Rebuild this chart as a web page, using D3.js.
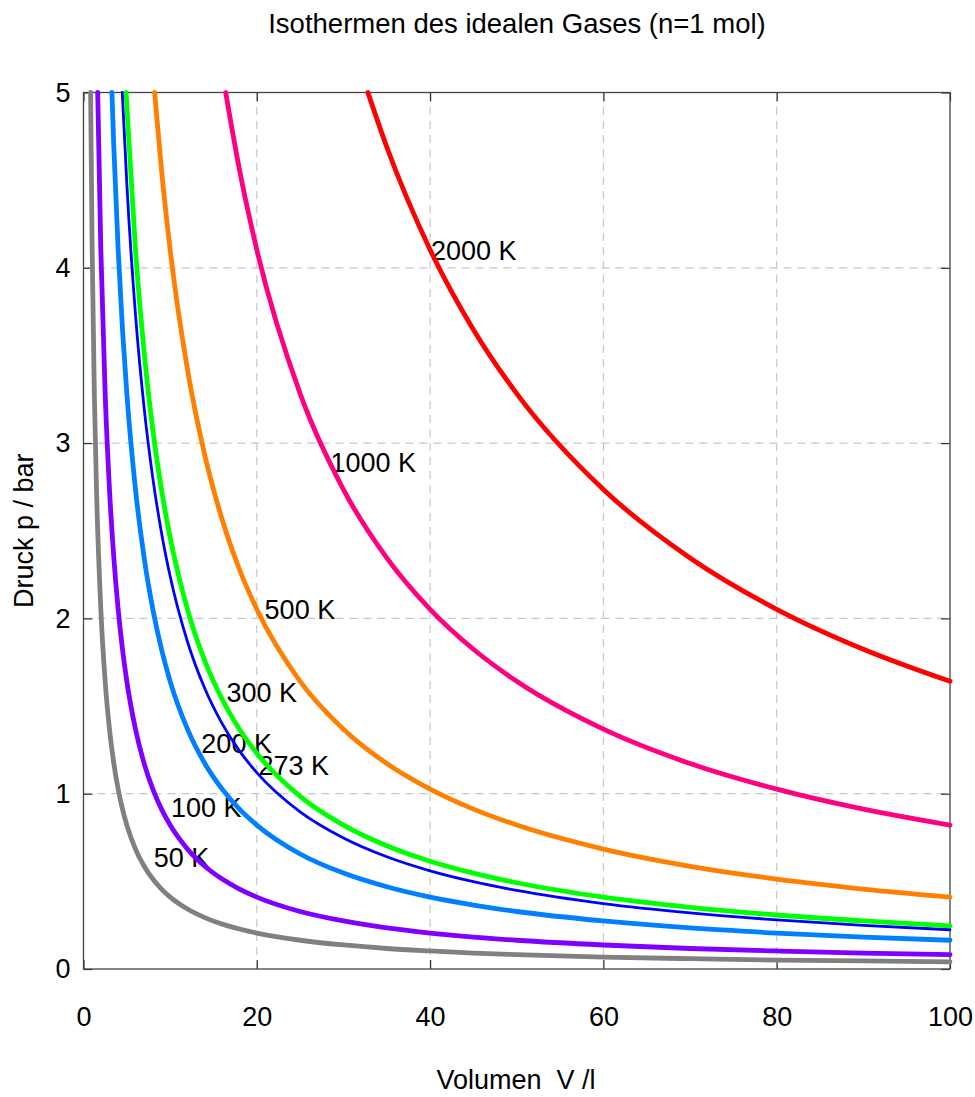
<!DOCTYPE html>
<html>
<head>
<meta charset="utf-8">
<script src="https://cdn.jsdelivr.net/npm/d3@7"></script>
<style>
  body { margin: 0; background: #fff; }
  svg { display: block; font-family: "Liberation Sans", Arial, sans-serif; }
</style>
</head>
<body>
<div id="chart"></div>
<script>
// isotherm temperatures and colours
var temperatures = [50, 100, 200, 273, 300, 500, 1000, 2000];
var colors = ['#808080', '#7f00ff', '#0080ff', '#0000ff', '#00ff00', '#ff8000', '#ff0080', '#ff0000'];

// volume (l) where each curve leaves the top of the frame (p = 5 bar)
var startVolumes = [0.82, 1.64, 3.28, 4.48, 4.92, 8.21, 16.41, 32.82];

// volumes read along the x axis
var volumes = [0.8, 1, 1.25, 1.5, 2, 2.5, 3, 3.5, 4, 4.5, 5, 6, 7, 8, 9, 10, 12, 14, 16, 18, 20, 25, 30, 35, 40, 45, 50, 60, 70, 80, 90, 100];

// pressures (bar) at those volumes, null = above the frame
var p50 = [null, 4.103, 3.282, 2.735, 2.052, 1.641, 1.368, 1.172, 1.026, 0.912, 0.821, 0.684, 0.586, 0.513, 0.456, 0.410, 0.342, 0.293, 0.256, 0.228, 0.205, 0.164, 0.137, 0.117, 0.103, 0.091, 0.082, 0.068, 0.059, 0.051, 0.046, 0.041];
var p100 = [null, null, null, null, 4.103, 3.282, 2.735, 2.345, 2.052, 1.824, 1.641, 1.368, 1.172, 1.026, 0.912, 0.821, 0.684, 0.586, 0.513, 0.456, 0.410, 0.328, 0.274, 0.234, 0.205, 0.182, 0.164, 0.137, 0.117, 0.103, 0.091, 0.082];
var p200 = [null, null, null, null, null, null, null, 4.689, 4.103, 3.647, 3.282, 2.735, 2.345, 2.052, 1.824, 1.641, 1.368, 1.172, 1.026, 0.912, 0.821, 0.656, 0.547, 0.469, 0.410, 0.365, 0.328, 0.274, 0.234, 0.205, 0.182, 0.164];
var p273 = [null, null, null, null, null, null, null, null, null, 4.978, 4.480, 3.733, 3.200, 2.800, 2.489, 2.240, 1.867, 1.600, 1.400, 1.244, 1.120, 0.896, 0.747, 0.640, 0.560, 0.498, 0.448, 0.373, 0.320, 0.280, 0.249, 0.224];
var p300 = [null, null, null, null, null, null, null, null, null, null, 4.924, 4.103, 3.517, 3.077, 2.735, 2.462, 2.052, 1.758, 1.539, 1.368, 1.231, 0.985, 0.821, 0.703, 0.615, 0.547, 0.492, 0.410, 0.352, 0.308, 0.274, 0.246];
var p500 = [null, null, null, null, null, null, null, null, null, null, null, null, null, null, 4.559, 4.103, 3.419, 2.931, 2.564, 2.279, 2.052, 1.641, 1.368, 1.172, 1.026, 0.912, 0.821, 0.684, 0.586, 0.513, 0.456, 0.410];
var p1000 = [null, null, null, null, null, null, null, null, null, null, null, null, null, null, null, null, null, null, null, 4.559, 4.103, 3.282, 2.735, 2.345, 2.052, 1.824, 1.641, 1.368, 1.172, 1.026, 0.912, 0.821];
var p2000 = [null, null, null, null, null, null, null, null, null, null, null, null, null, null, null, null, null, null, null, null, null, null, null, 4.689, 4.103, 3.647, 3.282, 2.735, 2.345, 2.052, 1.824, 1.641];
var pressures = [p50, p100, p200, p273, p300, p500, p1000, p2000];

// where the "T K" labels sit (V, p)
var labelV = [8.1, 10.1, 13.6, 20.2, 16.5, 20.9, 28.5, 40.1];
var labelP = [0.64, 0.92, 1.29, 1.16, 1.58, 2.05, 2.89, 4.10];

var xTicks = [0, 20, 40, 60, 80, 100];
var yTicks = [0, 1, 2, 3, 4, 5];

var width = 975, height = 1097;
var margin = {top: 92.5, right: 25, bottom: 128, left: 83.5};
var fontSize = 27;

var x = d3.scaleLinear().domain([0, 100]).range([margin.left, width - margin.right]);
var y = d3.scaleLinear().domain([0, 5]).range([height - margin.bottom, margin.top]);

var svg = d3.select('#chart').append('svg')
    .attr('width', width)
    .attr('height', height);

// grid
var grid = svg.append('g')
    .attr('stroke', '#c8c8c8')
    .attr('stroke-width', 1.2)
    .attr('stroke-dasharray', '8,6');
grid.selectAll('line.gx')
    .data(xTicks.slice(1, -1))
  .enter().append('line')
    .attr('class', 'gx')
    .attr('x1', function(d) { return x(d); })
    .attr('x2', function(d) { return x(d); })
    .attr('y1', y(0))
    .attr('y2', y(5));
grid.selectAll('line.gy')
    .data(yTicks.slice(1, -1))
  .enter().append('line')
    .attr('class', 'gy')
    .attr('x1', x(0))
    .attr('x2', x(100))
    .attr('y1', function(d) { return y(d); })
    .attr('y2', function(d) { return y(d); });

// axes, ticks pointing inward, mirrored on top/right
function styleAxis(g) {
  g.select('.domain').remove();
  g.selectAll('.tick line').attr('stroke', '#333').attr('stroke-width', 1.2);
  g.selectAll('.tick text')
    .attr('font-size', fontSize)
    .attr('font-family', '"Liberation Sans", Arial, sans-serif')
    .attr('fill', '#000');
}

svg.append('g')
    .attr('transform', 'translate(0,' + y(0) + ')')
    .call(d3.axisBottom(x).tickValues(xTicks).tickFormat(d3.format('d'))
      .tickSizeInner(-9).tickSizeOuter(0).tickPadding(38))
    .call(styleAxis);

svg.append('g')
    .attr('transform', 'translate(' + x(0) + ',0)')
    .call(d3.axisLeft(y).tickValues(yTicks).tickFormat(d3.format('d'))
      .tickSizeInner(-9).tickSizeOuter(0).tickPadding(13))
    .call(styleAxis);

svg.append('g')
    .attr('transform', 'translate(0,' + y(5) + ')')
    .call(d3.axisTop(x).tickValues(xTicks).tickFormat('')
      .tickSizeInner(-9).tickSizeOuter(0))
    .call(styleAxis);

svg.append('g')
    .attr('transform', 'translate(' + x(100) + ',0)')
    .call(d3.axisRight(y).tickValues(yTicks).tickFormat('')
      .tickSizeInner(-9).tickSizeOuter(0))
    .call(styleAxis);

// frame
svg.append('rect')
    .attr('x', x(0))
    .attr('y', y(5))
    .attr('width', x(100) - x(0))
    .attr('height', y(0) - y(5))
    .attr('fill', 'none')
    .attr('stroke', '#444')
    .attr('stroke-width', 1.3);

// titles
svg.append('text')
    .attr('x', 517)
    .attr('y', 33)
    .attr('text-anchor', 'middle')
    .attr('font-size', 27.5)
    .text('Isothermen des idealen Gases (n=1 mol)');

svg.append('text')
    .attr('x', 516)
    .attr('y', 1089)
    .attr('text-anchor', 'middle')
    .attr('font-size', fontSize)
    .attr('xml:space', 'preserve')
    .style('white-space', 'pre')
    .text('Volumen  V /l');

svg.append('text')
    .attr('transform', 'translate(33,' + ((y(0) + y(5)) / 2) + ') rotate(-90)')
    .attr('text-anchor', 'middle')
    .attr('font-size', fontSize)
    .text('Druck p / bar');

// curve labels (drawn under the lines)
svg.append('g').selectAll('text')
    .data(temperatures)
  .enter().append('text')
    .attr('x', function(d, i) { return x(labelV[i]); })
    .attr('y', function(d, i) { return y(labelP[i]); })
    .attr('dy', '0.36em')
    .attr('font-size', fontSize)
    .text(function(d) { return d + ' K'; });

// isotherms
var line = d3.line()
    .x(function(d) { return x(d.v); })
    .y(function(d) { return y(d.p); })
    .curve(d3.curveMonotoneX);

var series = temperatures.map(function(t, i) {
  var pts = [{v: startVolumes[i], p: 5}];
  volumes.forEach(function(v, j) {
    var p = pressures[i][j];
    if (p != null && v > startVolumes[i]) pts.push({v: v, p: p});
  });
  return pts;
});

svg.append('g').selectAll('path')
    .data(series)
  .enter().append('path')
    .attr('d', line)
    .attr('fill', 'none')
    .attr('stroke', function(d, i) { return colors[i]; })
    .attr('stroke-width', function(d, i) { return temperatures[i] === 273 ? 2.8 : 4.8; })
    .attr('stroke-linecap', 'round')
    .attr('stroke-linejoin', 'round');
</script>
</body>
</html>
